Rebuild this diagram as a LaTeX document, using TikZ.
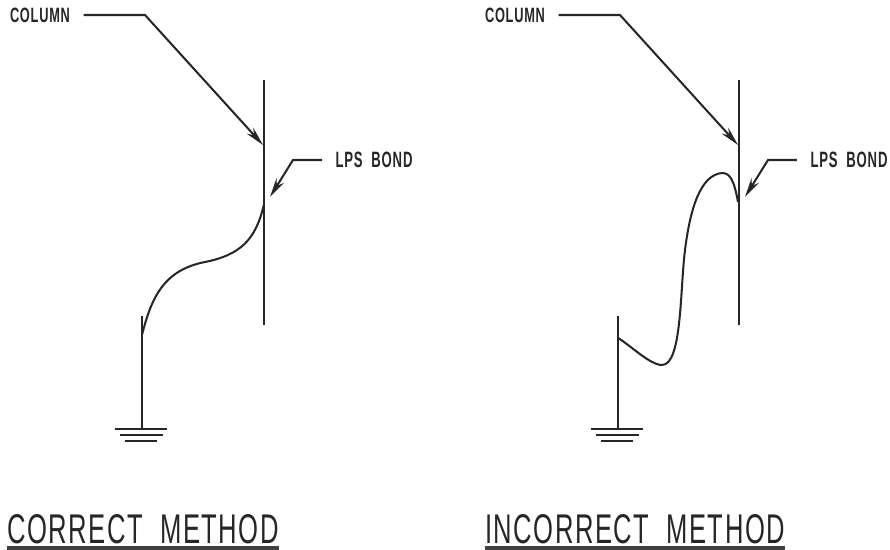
\documentclass[tikz,border=0pt]{standalone}
\usepackage{fontspec}
\setmainfont{Liberation Sans}
\usepackage{graphicx}
\usetikzlibrary{arrows.meta}

\tikzset{
    wire/.style = {line width=1.15pt, black!85},
    leader/.style = {wire, -{Stealth[length=11pt, width=5pt]}},
    callout/.style = {inner ysep=0pt, inner xsep=7.5pt, black!85},
    heading/.style = {inner sep=0pt, black!85}
}

\newcommand{\fitlabel}[3]{\resizebox{#1}{#2}{\addfontfeature{LetterSpace=6}#3}}

\begin{document}
\begin{tikzpicture}[x=0.02cm, y=-0.02cm]
        
        \useasboundingbox (0,0) rectangle (890,550);
        
        \foreach \x/\g/\side in {0/142/left, 475/143/right} {
        
            \draw[wire] (\x+264,80) -- (\x+264,325);
            \draw[wire] (\x+\g,316) -- (\x+\g,429);
            
            \draw[wire] (\x+\g-27,429) -- (\x+\g+25,429);
            \draw[wire] (\x+\g-22,435) -- (\x+\g+21,435);
            \draw[wire] (\x+\g-17,441) -- (\x+\g+15,441);
            
            \node[callout] (column\side) at (\x+40,15) {\fitlabel{1.2cm}{0.29cm}{\bfseries COLUMN}};
            \node[callout] (bond\side) at (\x+374,160) {\fitlabel{1.54cm}{0.31cm}{\bfseries LPS\ \ BOND}};
            
            \coordinate (columnbend\side) at (\x+145,15);
            \coordinate (columntip\side) at (\x+263,145);
            \coordinate (bondbend\side) at (\x+293,160);
            \coordinate (bondtip\side) at (\x+270,197);
            
            \draw[leader] (column\side.east) -- (columnbend\side) -- (columntip\side);
            \draw[leader] (bond\side.west) -- (bondbend\side) -- (bondtip\side);
        }
        
        \draw[wire] (264,204) .. controls (256,240) and (240,255) .. (205,262)
            .. controls (165,270) and (152,295) .. (142,335);
        
        \draw[wire] (738,202) .. controls (734,180) and (730,173) .. (722,173)
            .. controls (700,175) and (690,210) .. (685,250)
            .. controls (680,290) and (682,365) .. (662,365)
            .. controls (650,365) and (630,345) .. (618,338);
        
        \node[heading] (correct) at (143,529) {\fitlabel{5.44cm}{0.58cm}{CORRECT\ \ METHOD}};
        \node[heading] (incorrect) at (635,529) {\fitlabel{6cm}{0.58cm}{INCORRECT\ \ METHOD}};
        
        \draw[line width=2pt, black!75] ([yshift=-0.08cm]correct.south west) -- ([yshift=-0.08cm]correct.south east);
        \draw[line width=2pt, black!75] ([yshift=-0.08cm]incorrect.south west) -- ([yshift=-0.08cm]incorrect.south east);
        
    \end{tikzpicture}
\end{document}
